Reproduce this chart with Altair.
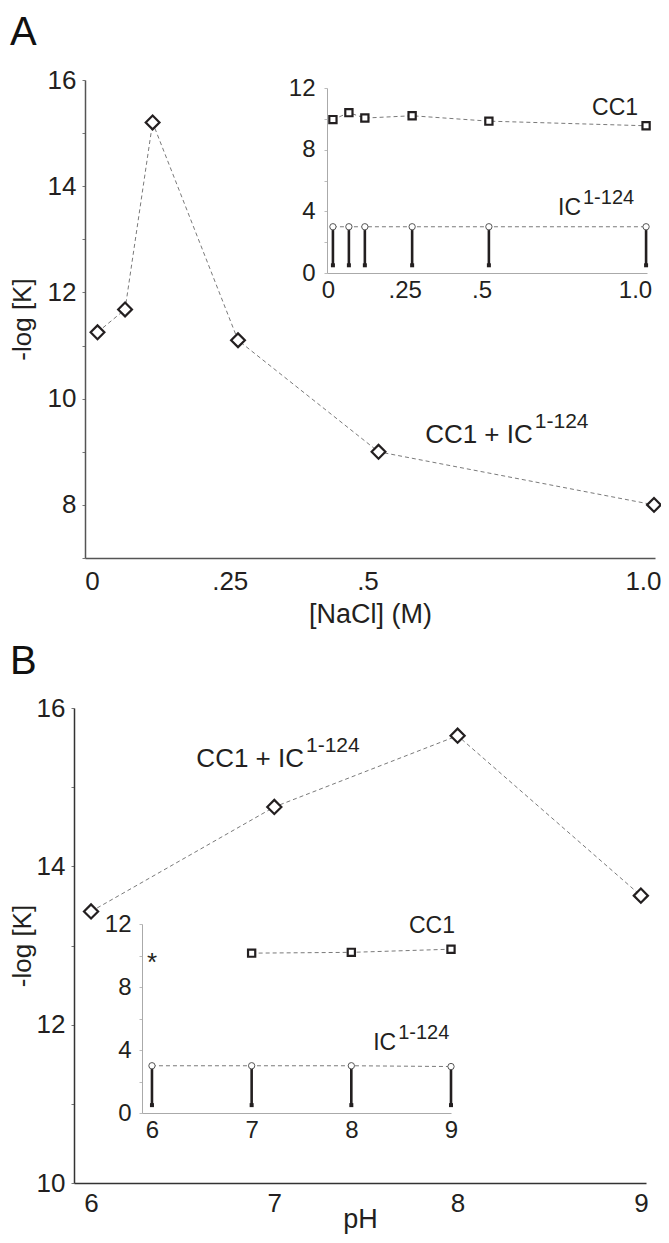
import altair as alt
import pandas as pd

# ---------------- data ----------------
# Panel A main: CC1 + IC(1-124) vs [NaCl]
a_nacl = [0.01, 0.06, 0.11, 0.265, 0.52, 1.02]
a_logk = [11.25, 11.68, 15.2, 11.1, 9.0, 8.0]
# Panel A inset
a_in_nacl = [0.016, 0.068, 0.12, 0.274, 0.524, 1.036]
a_in_cc1 = [9.95, 10.4, 10.05, 10.2, 9.85, 9.55]
a_in_ic = [3.0, 3.0, 3.0, 3.0, 3.0, 3.0]
a_in_ic_low = [0.5, 0.5, 0.5, 0.5, 0.5, 0.5]
# Panel B main: CC1 + IC(1-124) vs pH
b_ph = [6, 7, 8, 9]
b_logk = [13.43, 14.75, 15.65, 13.63]
# Panel B inset
b_in_ph_cc1 = [7, 8, 9]
b_in_cc1 = [10.15, 10.2, 10.4]
b_in_ph_ic = [6, 7, 8, 9]
b_in_ic = [3.0, 3.0, 3.0, 2.95]
b_in_ic_low = [0.5, 0.5, 0.5, 0.5]

# tick values / labels
a_x_ticks = [0, 0.25, 0.5, 1.0]
a_x_labels = ["0", ".25", ".5", "1.0"]
a_y_ticks = [7, 8, 9, 10, 11, 12, 13, 14, 15, 16]
in_y_ticks = [0, 2, 4, 6, 8, 10, 12]
b_x_ticks = [6, 7, 8, 9]
b_x_labels = ["6", "7", "8", "9"]
b_y_ticks = [10, 11, 12, 13, 14, 15, 16]

FONT = "Liberation Sans"
INK = "#231f20"
LINE = "#7a7a7a"
W, H = 653, 1227


def lab_expr(values, labels):
    s = "''"
    for v, l in reversed(list(zip(values, labels))):
        s = f"datum.value == {v} ? '{l}' : ({s})"
    return s


def make_x(field, dom, rng, axis_y, values, labels, lab_size, lab_pad, dcolor, dwidth,
           title=None, title_y=0, title_size=27):
    ax = dict(orient="bottom", offset=axis_y - H, values=values, labelExpr=lab_expr(values, labels),
              ticks=False, tickSize=0, grid=False, domainColor=dcolor, domainWidth=dwidth,
              labelFont=FONT, labelFontSize=lab_size, labelColor=INK, labelPadding=lab_pad,
              labelBaseline="alphabetic", labelFlush=False, labelOverlap=False, labelAlign="center")
    if title:
        ax.update(title=title, titleFont=FONT, titleFontSize=title_size, titleFontWeight="normal",
                  titleColor=INK, titleY=title_y, titleBaseline="alphabetic")
    else:
        ax.update(title=None)
    return alt.X(f"{field}:Q", scale=alt.Scale(domain=dom, range=rng, nice=False, zero=False),
                 axis=alt.Axis(**ax))


def make_y(field, dom, rng, axis_x, values, every, lab_size, lab_pad, dcolor, dwidth, tcolor,
           title=None, title_x=0, title_size=27):
    ax = dict(orient="left", offset=-axis_x, values=values,
              labelExpr=f"datum.value % {every} == 0 ? format(datum.value, 'd') : ''",
              ticks=True, tickSize=3, tickColor=tcolor, tickWidth=1, grid=False,
              domainColor=dcolor, domainWidth=dwidth,
              labelFont=FONT, labelFontSize=lab_size, labelColor=INK, labelPadding=lab_pad,
              labelBaseline="middle", labelFlush=False, labelOverlap=False)
    if title:
        ax.update(title=title, titleFont=FONT, titleFontSize=title_size, titleFontWeight="normal",
                  titleColor=INK, titleX=title_x, titleAngle=270, titleBaseline="middle")
    else:
        ax.update(title=None)
    return alt.Y(f"{field}:Q", scale=alt.Scale(domain=dom, range=rng, nice=False, zero=False),
                 axis=alt.Axis(**ax))


def dashed(df, x, y):
    return alt.Chart(df).mark_line(strokeDash=[4, 3], color=LINE, strokeWidth=1).encode(x=x, y=y)


def label(df, x, y, text, size, align, dx=0, dy=0):
    return alt.Chart(df).mark_text(text=text, font=FONT, fontSize=size, color=INK, align=align,
                                   baseline="alphabetic", dx=dx, dy=dy).encode(x=x, y=y)


# ---------------- Panel A main ----------------
xA = make_x("nacl", [-0.0127, 1.0218], [77, 647], 550, a_x_ticks, a_x_labels, 26, 31, "#555", 1.5,
            title="[NaCl] (M)", title_y=64)
yA = make_y("logk", [7, 16], [550, 72], 77, a_y_ticks, 2, 26, 6, "#555", 1.5, "#777",
            title="-log [K]", title_x=-63, title_size=26)
dfA = pd.DataFrame({"nacl": a_nacl, "logk": a_logk})
noteA = pd.DataFrame({"nacl": [0.80], "logk": [9.16]})
A_main = alt.layer(
    dashed(dfA, xA, yA),
    alt.Chart(dfA).mark_point(shape="diamond", size=190, filled=True, fill="white", stroke=INK,
                              strokeWidth=2.2, opacity=1).encode(x=xA, y=yA),
    label(noteA, xA, yA, "CC1 + IC", 26, "right"),
    label(noteA, xA, yA, "1-124", 21, "left", dx=2, dy=-15),
)

# ---------------- Panel A inset ----------------
xAi = make_x("nacl", [-0.0033, 1.039], [319, 639], 265, a_x_ticks, a_x_labels, 24, 24, "#aaa", 1)
yAi = make_y("v", [0, 12], [265, 80], 319, in_y_ticks, 4, 24, 9, "#aaa", 1, "#bbb")
dfAc = pd.DataFrame({"nacl": a_in_nacl, "v": a_in_cc1})
dfAi = pd.DataFrame({"nacl": a_in_nacl, "v": a_in_ic, "lo": a_in_ic_low})
cc1A = pd.DataFrame({"nacl": [1.01], "v": [10.25]})
icA = pd.DataFrame({"nacl": [0.824], "v": [3.76]})
A_inset = alt.layer(
    dashed(dfAc, xAi, yAi),
    alt.Chart(dfAc).mark_point(shape="square", size=52, filled=True, fill="white", stroke=INK,
                               strokeWidth=2.2, opacity=1).encode(x=xAi, y=yAi),
    dashed(dfAi, xAi, yAi),
    alt.Chart(dfAi).mark_rule(color=INK, strokeWidth=2.6).encode(x=xAi, y=alt.Y("lo:Q"), y2="v:Q"),
    alt.Chart(dfAi).mark_point(shape="square", size=16, filled=True, color=INK, opacity=1).encode(
        x=xAi, y=alt.Y("lo:Q")),
    alt.Chart(dfAi).mark_point(shape="circle", size=40, filled=True, fill="white", stroke="#555",
                               strokeWidth=1, opacity=1).encode(x=xAi, y=yAi),
    label(cc1A, xAi, yAi, "CC1", 23, "right"),
    label(icA, xAi, yAi, "IC", 23, "right"),
    label(icA, xAi, yAi, "1-124", 20, "left", dx=2, dy=-11),
)

# ---------------- Panel B main ----------------
xB = make_x("ph", [5.907, 9.028], [66, 638], 1175, b_x_ticks, b_x_labels, 26, 28, "#333", 1.5,
            title="pH", title_y=44)
yB = make_y("logk", [10, 16], [1175, 700], 66, b_y_ticks, 2, 26, 6, "#333", 1.5, "#777",
            title="-log [K]", title_x=-52, title_size=26)
dfB = pd.DataFrame({"ph": b_ph, "logk": b_logk})
noteB = pd.DataFrame({"ph": [7.162], "logk": [15.25]})
B_main = alt.layer(
    dashed(dfB, xB, yB),
    alt.Chart(dfB).mark_point(shape="diamond", size=200, filled=True, fill="white", stroke=INK,
                              strokeWidth=2.2, opacity=1).encode(x=xB, y=yB),
    label(noteB, xB, yB, "CC1 + IC", 26, "right"),
    label(noteB, xB, yB, "1-124", 21, "left", dx=2, dy=-15),
)

# ---------------- Panel B inset ----------------
xBi = make_x("ph", [5.9, 9.0], [134, 443], 1105, b_x_ticks, b_x_labels, 24, 24, "#aaa", 1)
yBi = make_y("v", [0, 12], [1105, 916], 134, in_y_ticks, 4, 24, 8, "#aaa", 1, "#bbb")
dfBc = pd.DataFrame({"ph": b_in_ph_cc1, "v": b_in_cc1})
dfBi = pd.DataFrame({"ph": b_in_ph_ic, "v": b_in_ic, "lo": b_in_ic_low})
cc1B = pd.DataFrame({"ph": [9.04], "v": [11.43]})
icB = pd.DataFrame({"ph": [8.45], "v": [4.0]})
starB = pd.DataFrame({"ph": [6.0], "v": [9.0]})
B_inset = alt.layer(
    dashed(dfBc, xBi, yBi),
    alt.Chart(dfBc).mark_point(shape="square", size=52, filled=True, fill="white", stroke=INK,
                               strokeWidth=2.2, opacity=1).encode(x=xBi, y=yBi),
    dashed(dfBi, xBi, yBi),
    alt.Chart(dfBi).mark_rule(color=INK, strokeWidth=2.6).encode(x=xBi, y=alt.Y("lo:Q"), y2="v:Q"),
    alt.Chart(dfBi).mark_point(shape="square", size=16, filled=True, color=INK, opacity=1).encode(
        x=xBi, y=alt.Y("lo:Q")),
    alt.Chart(dfBi).mark_point(shape="circle", size=40, filled=True, fill="white", stroke="#555",
                               strokeWidth=1, opacity=1).encode(x=xBi, y=yBi),
    label(cc1B, xBi, yBi, "CC1", 23, "right"),
    label(icB, xBi, yBi, "IC", 23, "right"),
    label(icB, xBi, yBi, "1-124", 20, "left", dx=2, dy=-11),
    label(starB, xBi, yBi, "*", 26, "center"),
)

# ---------------- panel letters ----------------
one = pd.DataFrame({"k": [0]})
letters = alt.layer(
    alt.Chart(one).mark_text(font=FONT, fontSize=40, color="#111", align="left",
                             baseline="alphabetic").encode(x=alt.value(2), y=alt.value(37),
                                                           text=alt.value("A")),
    alt.Chart(one).mark_text(font=FONT, fontSize=40, color="#111", align="left",
                             baseline="alphabetic").encode(x=alt.value(2), y=alt.value(666),
                                                           text=alt.value("B")),
)

chart = alt.layer(A_main, A_inset, B_main, B_inset, letters).resolve_scale(
    x="independent", y="independent"
).properties(
    width=W, height=H, padding=0, autosize=alt.AutoSizeParams(type="none")
).configure_view(stroke=None)

chart.save("out.html", embed_options={"renderer": "svg", "actions": False})
